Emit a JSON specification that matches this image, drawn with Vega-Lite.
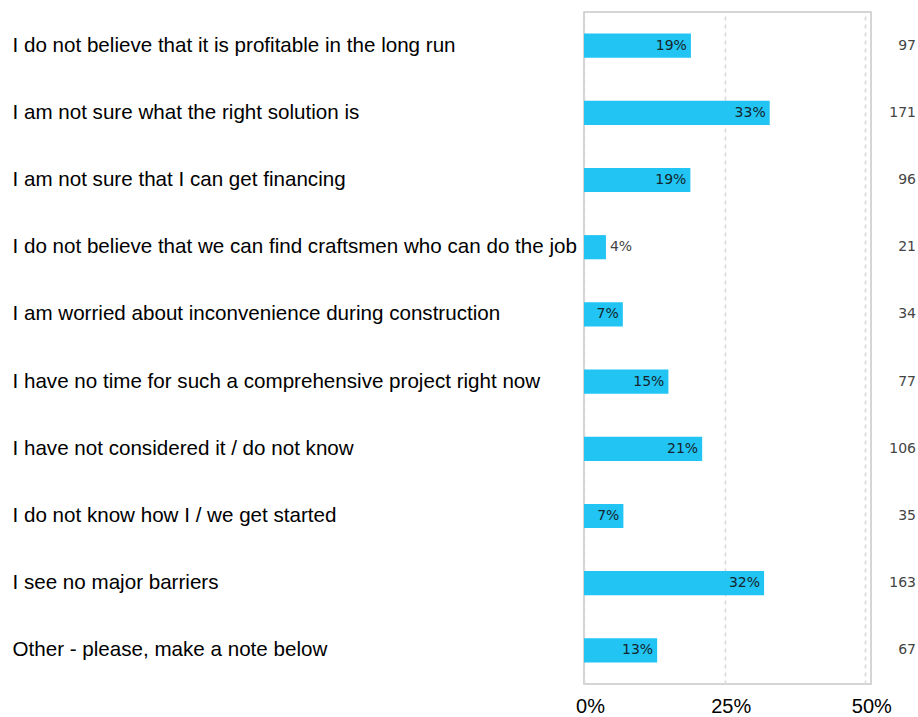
{
  "$schema": "https://vega.github.io/schema/vega-lite/v6.json",
  "width": 287,
  "height": 672,
  "padding": {"left": 12, "top": 12, "right": 2, "bottom": 0},
  "background": "white",
  "config": {
    "view": {"stroke": "#c8c8c8", "strokeWidth": 1.5},
    "axis": {"labelFont": "Liberation Sans", "labelFontSize": 20, "labelColor": "#000"}
  },
  "data": {
    "values": [
      {"reason": "I do not believe that it is profitable in the long run", "pct": 19.0, "label": "19%", "count": 97},
      {"reason": "I am not sure what the right solution is", "pct": 33.0, "label": "33%", "count": 171},
      {"reason": "I am not sure that I can get financing", "pct": 18.9, "label": "19%", "count": 96},
      {"reason": "I do not believe that we can find craftsmen who can do the job", "pct": 3.9, "label": "4%", "count": 21},
      {"reason": "I am worried about inconvenience during construction", "pct": 6.9, "label": "7%", "count": 34},
      {"reason": "I have no time for such a comprehensive project right now", "pct": 15.0, "label": "15%", "count": 77},
      {"reason": "I have not considered it / do not know", "pct": 21.0, "label": "21%", "count": 106},
      {"reason": "I do not know how I / we get started", "pct": 7.0, "label": "7%", "count": 35},
      {"reason": "I see no major barriers", "pct": 32.0, "label": "32%", "count": 163},
      {"reason": "Other - please, make a note below", "pct": 13.0, "label": "13%", "count": 67}
    ]
  },
  "encoding": {
    "y": {
      "field": "reason",
      "type": "nominal",
      "sort": null,
      "scale": {"paddingInner": 0.64, "paddingOuter": 0.32},
      "axis": {
        "title": null,
        "ticks": false,
        "domain": false,
        "labelAlign": "left",
        "labelBaseline": "middle",
        "labelPadding": 572,
        "labelLimit": 0,
        "labelFontSize": 20.6
      }
    }
  },
  "layer": [
    {
      "mark": {"type": "bar", "color": "#21C4F3"},
      "encoding": {
        "x": {
          "field": "pct",
          "type": "quantitative",
          "scale": {"domain": [0, 51], "nice": false},
          "axis": {
            "title": null,
            "values": [0, 25, 50],
            "labelExpr": "datum.value + '%'",
            "grid": true,
            "gridDash": [4, 4],
            "gridColor": "#d8d8d8",
            "gridWidth": 1.5,
            "ticks": false,
            "domain": false,
            "labelPadding": 12,
            "labelOffset": 6,
            "labelFlush": false
          }
        }
      }
    },
    {
      "transform": [{"filter": "datum.pct > 5"}],
      "mark": {"type": "text", "align": "right", "baseline": "middle", "dx": -4, "font": "DejaVu Sans", "fontSize": 14, "color": "#15252c"},
      "encoding": {
        "x": {"field": "pct", "type": "quantitative"},
        "text": {"field": "label"}
      }
    },
    {
      "transform": [{"filter": "datum.pct <= 5"}],
      "mark": {"type": "text", "align": "left", "baseline": "middle", "dx": 4, "font": "DejaVu Sans", "fontSize": 14, "color": "#444"},
      "encoding": {
        "x": {"field": "pct", "type": "quantitative"},
        "text": {"field": "label"}
      }
    },
    {
      "mark": {"type": "text", "align": "right", "baseline": "middle", "font": "DejaVu Sans", "fontSize": 14, "color": "#444", "clip": false},
      "encoding": {
        "x": {"datum": 59, "type": "quantitative"},
        "text": {"field": "count"}
      }
    }
  ]
}
